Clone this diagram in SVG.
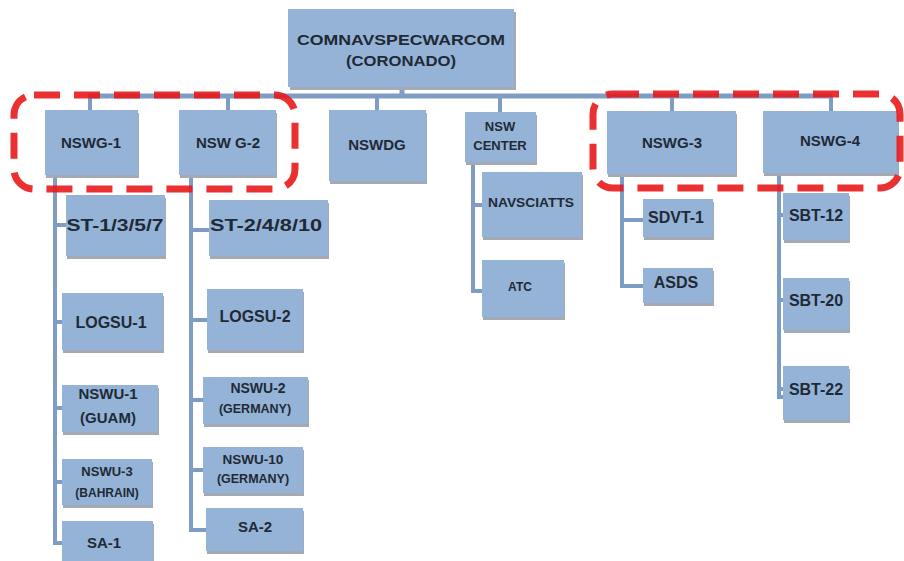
<svg xmlns="http://www.w3.org/2000/svg" width="904" height="561" viewBox="0 0 904 561">
<style>
.box{fill:#95b3d7;}
.sh{fill:#a3aab3;}
.t{font-family:"Liberation Sans",Arial,sans-serif;font-weight:bold;fill:#1f2a36;text-anchor:middle;}
.c{stroke:#7f9dc4;stroke-width:4;fill:none;}
.red{fill:none;stroke:#e8191b;stroke-width:7;stroke-dasharray:26 14;opacity:0.9;}
</style>
<rect width="904" height="561" fill="#ffffff"/>
<g id="connectors">
<path class="c" d="M402 88V96M88 96H832" style="stroke-width:5"/>
<path class="c" d="M90 96V110M228 96V110M377 96V110M500 96V112M672 96V111M831 96V111"/>
<path class="c" d="M55 175V543H62M55 225H66M55 322H62M55 408H62M55 482H62"/>
<path class="c" d="M191 176V530H206M191 230H209M191 320H207M191 400H203M191 470H203"/>
<path class="c" d="M473 162V291H482M473 205H482"/>
<path class="c" d="M622 174V286H643M622 220H643"/>
<path class="c" d="M779 173V397H783M779 215H783M779 300H783M779 389H783"/>
</g>
<g id="root">
<rect class="sh" x="290" y="12" width="226" height="78"/>
<rect class="box" x="288" y="9" width="226" height="78"/>
<text class="t" x="401" y="45" font-size="15" textLength="208" lengthAdjust="spacingAndGlyphs">COMNAVSPECWARCOM</text>
<text class="t" x="401" y="66" font-size="15" textLength="110" lengthAdjust="spacingAndGlyphs">(CORONADO)</text>
</g>
<g id="nswg1">
<rect class="sh" x="46" y="113" width="93" height="65"/>
<rect class="box" x="45" y="110" width="93" height="65"/>
<text class="t" x="91" y="148" font-size="15">NSWG-1</text>
</g>
<g id="nswg2">
<rect class="sh" x="180" y="113" width="97" height="65"/>
<rect class="box" x="179" y="110" width="97" height="65"/>
<text class="t" x="228" y="148" font-size="15">NSW G-2</text>
</g>
<g id="nswdg">
<rect class="sh" x="330" y="113" width="97" height="71"/>
<rect class="box" x="329" y="110" width="97" height="71"/>
<text class="t" x="377" y="150" font-size="15">NSWDG</text>
</g>
<g id="nswcenter">
<rect class="sh" x="466" y="115" width="71" height="50"/>
<rect class="box" x="465" y="112" width="71" height="50"/>
<text class="t" x="500" y="131" font-size="13">NSW</text>
<text class="t" x="500" y="150" font-size="13">CENTER</text>
</g>
<g id="nswg3">
<rect class="sh" x="608" y="114" width="129" height="63"/>
<rect class="box" x="607" y="111" width="129" height="63"/>
<text class="t" x="672" y="148" font-size="15">NSWG-3</text>
</g>
<g id="nswg4">
<rect class="sh" x="764" y="114" width="135" height="62"/>
<rect class="box" x="763" y="111" width="135" height="62"/>
<text class="t" x="830" y="146" font-size="15">NSWG-4</text>
</g>
<g id="st1">
<rect class="sh" x="67" y="198" width="99" height="61"/>
<rect class="box" x="66" y="195" width="99" height="61"/>
<text class="t" x="115" y="231" font-size="17" textLength="97" lengthAdjust="spacingAndGlyphs">ST-1/3/5/7</text>
</g>
<g id="logsu1">
<rect class="sh" x="63" y="296" width="101" height="57"/>
<rect class="box" x="62" y="293" width="101" height="57"/>
<text class="t" x="111" y="328" font-size="16">LOGSU-1</text>
</g>
<g id="nswu1">
<rect class="sh" x="63" y="388" width="96" height="47"/>
<rect class="box" x="62" y="385" width="96" height="47"/>
<text class="t" x="108" y="399" font-size="15">NSWU-1</text>
<text class="t" x="108" y="423" font-size="15">(GUAM)</text>
</g>
<g id="nswu3">
<rect class="sh" x="63" y="462" width="90" height="46"/>
<rect class="box" x="62" y="459" width="90" height="46"/>
<text class="t" x="107" y="476" font-size="13">NSWU-3</text>
<text class="t" x="107" y="497" font-size="12">(BAHRAIN)</text>
</g>
<g id="sa1">
<rect class="sh" x="63" y="524" width="91" height="40"/>
<rect class="box" x="62" y="521" width="91" height="40"/>
<text class="t" x="104" y="548" font-size="15">SA-1</text>
</g>
<g id="st2">
<rect class="sh" x="210" y="203" width="119" height="56"/>
<rect class="box" x="209" y="200" width="119" height="56"/>
<text class="t" x="266" y="231" font-size="17" textLength="112" lengthAdjust="spacingAndGlyphs">ST-2/4/8/10</text>
</g>
<g id="logsu2">
<rect class="sh" x="208" y="292" width="96" height="61"/>
<rect class="box" x="207" y="289" width="96" height="61"/>
<text class="t" x="255" y="322" font-size="16">LOGSU-2</text>
</g>
<g id="nswu2">
<rect class="sh" x="204" y="380" width="105" height="47"/>
<rect class="box" x="203" y="377" width="105" height="47"/>
<text class="t" x="258" y="393" font-size="14">NSWU-2</text>
<text class="t" x="255" y="413" font-size="12.5">(GERMANY)</text>
</g>
<g id="nswu10">
<rect class="sh" x="204" y="450" width="100" height="46"/>
<rect class="box" x="203" y="447" width="100" height="46"/>
<text class="t" x="253" y="464" font-size="13.5">NSWU-10</text>
<text class="t" x="253" y="483" font-size="12.5">(GERMANY)</text>
</g>
<g id="sa2">
<rect class="sh" x="207" y="511" width="97" height="43"/>
<rect class="box" x="206" y="508" width="97" height="43"/>
<text class="t" x="255" y="532" font-size="15">SA-2</text>
</g>
<g id="navsciatts">
<rect class="sh" x="483" y="175" width="100" height="65"/>
<rect class="box" x="482" y="172" width="100" height="65"/>
<text class="t" x="531" y="207" font-size="12" textLength="86" lengthAdjust="spacingAndGlyphs">NAVSCIATTS</text>
</g>
<g id="atc">
<rect class="sh" x="483" y="263" width="82" height="57"/>
<rect class="box" x="482" y="260" width="82" height="57"/>
<text class="t" x="520" y="291" font-size="12">ATC</text>
</g>
<g id="sdvt1">
<rect class="sh" x="644" y="202" width="70" height="38"/>
<rect class="box" x="643" y="199" width="70" height="38"/>
<text class="t" x="676" y="223" font-size="16">SDVT-1</text>
</g>
<g id="asds">
<rect class="sh" x="644" y="271" width="70" height="35"/>
<rect class="box" x="643" y="268" width="70" height="35"/>
<text class="t" x="676" y="288" font-size="16">ASDS</text>
</g>
<g id="sbt12">
<rect class="sh" x="784" y="196" width="66" height="47"/>
<rect class="box" x="783" y="193" width="66" height="47"/>
<text class="t" x="816" y="221" font-size="16">SBT-12</text>
</g>
<g id="sbt20">
<rect class="sh" x="784" y="281" width="66" height="52"/>
<rect class="box" x="783" y="278" width="66" height="52"/>
<text class="t" x="816" y="306" font-size="16">SBT-20</text>
</g>
<g id="sbt22">
<rect class="sh" x="784" y="369" width="66" height="54"/>
<rect class="box" x="783" y="366" width="66" height="54"/>
<text class="t" x="816" y="395" font-size="16">SBT-22</text>
</g>
<g id="highlights">
<rect class="red" x="14" y="95" width="281" height="94" rx="20"/>
<rect class="red" x="593" y="94" width="307" height="94" rx="20"/>
</g>
</svg>
